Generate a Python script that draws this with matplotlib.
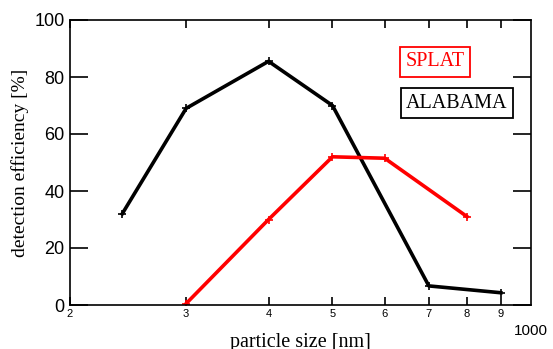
import matplotlib
matplotlib.use("Agg")
import matplotlib.pyplot as plt
from matplotlib.ticker import FixedLocator, FixedFormatter

# particle size [nm] vs detection efficiency [%]
alabama_size = [240, 300, 400, 500, 700, 900]
alabama_eff = [32, 69, 85.5, 70, 6.7, 4.3]

splat_size = [300, 400, 500, 600, 800]
splat_eff = [0.5, 30, 52, 51.5, 31]

minor_ticks = [200, 300, 400, 500, 600, 700, 800, 900]
minor_labels = ["2", "3", "4", "5", "6", "7", "8", "9"]

serif = ["Liberation Serif", "DejaVu Serif"]
sans = ["Liberation Sans", "DejaVu Sans"]

plt.rcParams["xtick.direction"] = "in"
plt.rcParams["ytick.direction"] = "in"

W, H = 553, 349
fig = plt.figure(figsize=(W / 100, H / 100), dpi=100)
ax = fig.add_axes([70 / W, 1 - 305 / H, 461 / W, 285 / H])

ax.plot(alabama_size, alabama_eff, color="black", lw=2.6, marker="+", ms=6, mew=1.2)
ax.plot(splat_size, splat_eff, color="red", lw=2.6, marker="+", ms=6, mew=1.2)

ax.set_xscale("log")
ax.set_xlim(200, 1000)
ax.set_ylim(0, 100)

ax.xaxis.set_major_locator(FixedLocator([1000]))
ax.xaxis.set_major_formatter(FixedFormatter(["1000"]))
ax.xaxis.set_minor_locator(FixedLocator(minor_ticks))
ax.xaxis.set_minor_formatter(FixedFormatter(minor_labels))
ax.tick_params(axis="x", which="minor", direction="in", length=6, width=1.2,
               top=True, bottom=True, labelsize=8, pad=3)
ax.tick_params(axis="x", which="major", length=0, labelsize=11, pad=14)
for lab in ax.get_xticklabels(which="both"):
    lab.set_family(sans)

ax.set_yticks([0, 20, 40, 60, 80, 100])
ax.tick_params(axis="y", which="major", direction="in", length=13, width=1.2,
               left=True, right=True, labelsize=13, pad=4)
for lab in ax.get_yticklabels():
    lab.set_family(sans)

for s in ax.spines.values():
    s.set_linewidth(1.2)

ax.set_xlabel("particle size [nm]", family=serif, fontsize=14.5, labelpad=-4)
ax.set_ylabel("detection efficiency [%]", family=serif, fontsize=14, labelpad=4)

ax.text(435 / W, 1 - 62 / H, "SPLAT", transform=fig.transFigure, color="red",
        family=serif, fontsize=14.5, ha="center", va="center",
        bbox=dict(boxstyle="square,pad=0.25", fc="white", ec="red", lw=1.3))
ax.text(457 / W, 1 - 103 / H, "ALABAMA", transform=fig.transFigure, color="black",
        family=serif, fontsize=14.5, ha="center", va="center",
        bbox=dict(boxstyle="square,pad=0.25", fc="white", ec="black", lw=1.3))

fig.savefig("out.png", dpi=100)
